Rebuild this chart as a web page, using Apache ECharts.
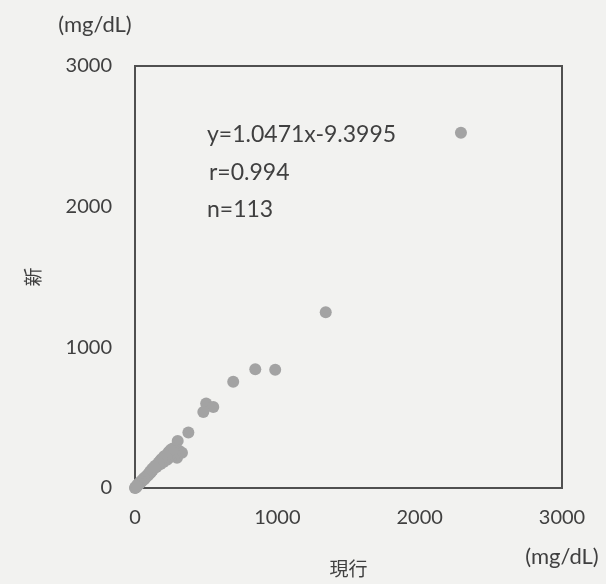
<!DOCTYPE html>
<html><head><meta charset="utf-8">
<script src="https://cdn.jsdelivr.net/npm/echarts@6/dist/echarts.min.js"></script>
<style>html,body{margin:0;padding:0;background:#f2f2f0;}#c{width:606px;height:584px;}</style>
</head><body><div id="c"></div>
<script>
// current method (x) vs new method (y), mg/dL
const currentVals = [2290,1340,985,845,690,500,550,480,375,300,310,330,295,280,260,240,225,210,200,190,180,170,160,150,140,130,125,115,110,100,95,90,85,80,75,70,65,60,55,50,45,40,35,30,25,20,15,10,8,5,3,0,235,205,175,145,120,105,265,250,215,185,165,135,62,42,28,18,12];
const newVals     = [2525,1250,840,845,755,600,575,540,395,335,265,250,215,240,230,215,200,210,185,195,170,175,160,150,145,140,128,120,108,105,95,88,90,80,76,72,62,60,55,52,45,40,36,30,24,22,16,10,6,4,3,0,255,225,190,160,135,115,280,270,230,205,180,150,70,48,34,24,15];
const xTicks = [0,1000,2000,3000];
const yTicks = [0,1000,2000,3000];
const statLines = ['y=1.0471x-9.3995','r=0.994','n=113'];
const unitLabel = '(mg/dL)';
const xName = '現行';
const yName = '新';

const pts = currentVals.map((v,i)=>[v,newVals[i]]);
const font = 'Lato, "Noto Sans CJK JP", sans-serif';
const txt = '#404040';
const chart = echarts.init(document.getElementById('c'));
chart.setOption({
  backgroundColor:'#f2f2f0',
  animation:false,
  grid:{left:135,right:44,top:66,bottom:93,show:true,borderColor:'#505050',borderWidth:2,backgroundColor:'transparent'},
  xAxis:{type:'value',min:xTicks[0],max:xTicks[xTicks.length-1],interval:1000,
    axisLine:{show:false},axisTick:{show:false},splitLine:{show:false},
    axisLabel:{color:txt,fontSize:20,fontFamily:font,margin:20,formatter:v=>String(v)},
    name:xName,nameLocation:'middle',nameGap:72,nameTextStyle:{color:txt,fontSize:19,fontFamily:font}},
  yAxis:{type:'value',min:yTicks[0],max:yTicks[yTicks.length-1],interval:1000,
    axisLine:{show:false},axisTick:{show:false},splitLine:{show:false},
    axisLabel:{color:txt,fontSize:20,fontFamily:font,margin:23,formatter:v=>String(v)},
    name:yName,nameLocation:'middle',nameGap:92,nameTextStyle:{color:txt,fontSize:19,fontFamily:font}},
  graphic:[
    {type:'text',x:95,y:25,style:{text:unitLabel,fill:txt,font:'22px '+font,align:'center',verticalAlign:'middle'}},
    {type:'text',x:562,y:557,style:{text:unitLabel,fill:txt,font:'22px '+font,align:'center',verticalAlign:'middle'}},
    {type:'text',x:207,y:135,style:{text:statLines[0],fill:txt,font:'23px '+font,verticalAlign:'middle'}},
    {type:'text',x:209,y:173,style:{text:statLines[1],fill:txt,font:'23px '+font,verticalAlign:'middle'}},
    {type:'text',x:207,y:210,style:{text:statLines[2],fill:txt,font:'23px '+font,verticalAlign:'middle'}}
  ],
  series:[{type:'scatter',data:pts,symbolSize:12,itemStyle:{color:'#a3a3a3',opacity:1}}]
});
</script></body></html>
